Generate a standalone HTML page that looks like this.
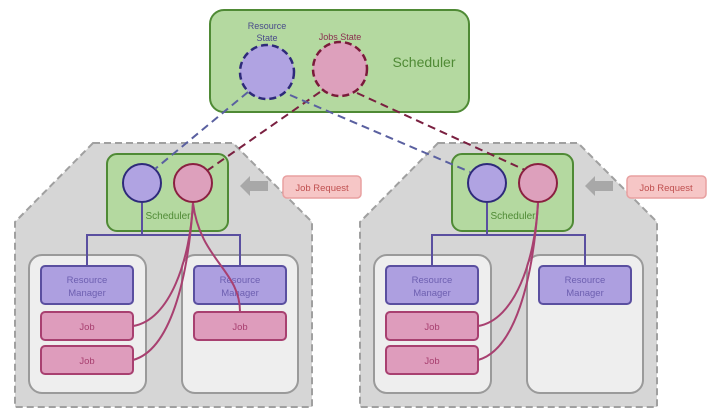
<!DOCTYPE html>
<html><head><style>
html,body{margin:0;padding:0;background:#fff;}
svg{display:block;font-family:"Liberation Sans",sans-serif;}
</style></head><body>
<svg width="720" height="418" viewBox="0 0 720 418" xmlns="http://www.w3.org/2000/svg">
<defs>
<g id="cl">
  <polygon points="93,143 233,143 312,222 312,407 15,407 15,222" fill="#d6d6d6" stroke="#a0a0a0" stroke-width="2" stroke-dasharray="7,4"/>
  <rect x="107" y="154" width="121" height="77" rx="10" fill="#b4d9a0" stroke="#4f8a35" stroke-width="2"/>
  <text x="168" y="219" font-size="10" fill="#4f8a35" text-anchor="middle">Scheduler</text>
  <rect x="29" y="255" width="117" height="138" rx="13" fill="#eeeeee" stroke="#9a9a9a" stroke-width="2"/>
  <rect x="182" y="255" width="116" height="138" rx="13" fill="#eeeeee" stroke="#9a9a9a" stroke-width="2"/>
  <polyline points="142,203 142,235 87,235 87,266" fill="none" stroke="#5a4fa0" stroke-width="2"/>
  <polyline points="142,235 240,235 240,266" fill="none" stroke="#5a4fa0" stroke-width="2"/>
  <rect x="41" y="266" width="92" height="38" rx="4" fill="#ad9fe0" stroke="#5a4fa0" stroke-width="2"/>
  <text x="87" y="283" font-size="9.5" fill="#6d5fb0" text-anchor="middle">Resource</text>
  <text x="87" y="296" font-size="9.5" fill="#6d5fb0" text-anchor="middle">Manager</text>
  <rect x="41" y="312" width="92" height="28" rx="4" fill="#de9cbc" stroke="#a84070" stroke-width="2"/>
  <text x="87" y="330" font-size="9.5" fill="#a84070" text-anchor="middle">Job</text>
  <rect x="41" y="346" width="92" height="28" rx="4" fill="#de9cbc" stroke="#a84070" stroke-width="2"/>
  <text x="87" y="364" font-size="9.5" fill="#a84070" text-anchor="middle">Job</text>
  <rect x="194" y="266" width="92" height="38" rx="4" fill="#ad9fe0" stroke="#5a4fa0" stroke-width="2"/>
  <text x="240" y="283" font-size="9.5" fill="#6d5fb0" text-anchor="middle">Resource</text>
  <text x="240" y="296" font-size="9.5" fill="#6d5fb0" text-anchor="middle">Manager</text>
  <circle cx="142" cy="183" r="19" fill="#b0a3e2" stroke="#2e2a7a" stroke-width="2"/>
  <circle cx="193" cy="183" r="19" fill="#dda0bc" stroke="#8a2040" stroke-width="2"/>
  <path d="M193,203 C190,260 170,320 133,326" fill="none" stroke="#a84070" stroke-width="2"/>
  <path d="M193,203 C188,280 170,350 133,360" fill="none" stroke="#a84070" stroke-width="2"/>
  <polygon points="240,186 250,176 250,181 268,181 268,191 250,191 250,196" fill="#a8a8a8"/>
</g>
</defs>
<rect x="210" y="10" width="259" height="102" rx="14" fill="#b4d9a0" stroke="#4f8a35" stroke-width="2"/>
<text x="267" y="29" font-size="9" fill="#4a4a8a" text-anchor="middle">Resource</text>
<text x="267" y="41" font-size="9" fill="#4a4a8a" text-anchor="middle">State</text>
<text x="340" y="40" font-size="9" fill="#8a3050" text-anchor="middle">Jobs State</text>
<text x="424" y="67" font-size="14" fill="#4f8a35" text-anchor="middle">Scheduler</text>
<circle cx="267" cy="72" r="27" fill="#b0a3e2" stroke="#2e2a7a" stroke-width="2.5" stroke-dasharray="7,4"/>
<circle cx="340" cy="69" r="27" fill="#dda0bc" stroke="#7a1a3a" stroke-width="2.5" stroke-dasharray="7,4"/>
<use href="#cl"/>
<use href="#cl" transform="translate(345,0)"/>
<path d="M193,203 C200,260 240,270 240,312" fill="none" stroke="#a84070" stroke-width="2"/>
<rect x="194" y="312" width="92" height="28" rx="4" fill="#de9cbc" stroke="#a84070" stroke-width="2"/>
<text x="240" y="330" font-size="9.5" fill="#a84070" text-anchor="middle">Job</text>
<line x1="248" y1="92" x2="155" y2="169" stroke="#5a60a0" stroke-width="2" stroke-dasharray="8,5"/>
<line x1="320" y1="92" x2="208" y2="170" stroke="#7a2040" stroke-width="2" stroke-dasharray="8,5"/>
<line x1="290" y1="95" x2="470" y2="172" stroke="#5a60a0" stroke-width="2" stroke-dasharray="8,5"/>
<line x1="357" y1="93" x2="525" y2="170" stroke="#7a2040" stroke-width="2" stroke-dasharray="8,5"/>
<rect x="283" y="176" width="78" height="22" rx="4" fill="#f6c6c6" stroke="#e8a0a0" stroke-width="1.5"/>
<text x="322" y="191" font-size="9.5" fill="#c05050" text-anchor="middle">Job Request</text>
<rect x="627" y="176" width="79" height="22" rx="4" fill="#f6c6c6" stroke="#e8a0a0" stroke-width="1.5"/>
<text x="666" y="191" font-size="9.5" fill="#c05050" text-anchor="middle">Job Request</text>
</svg>
</body></html>
